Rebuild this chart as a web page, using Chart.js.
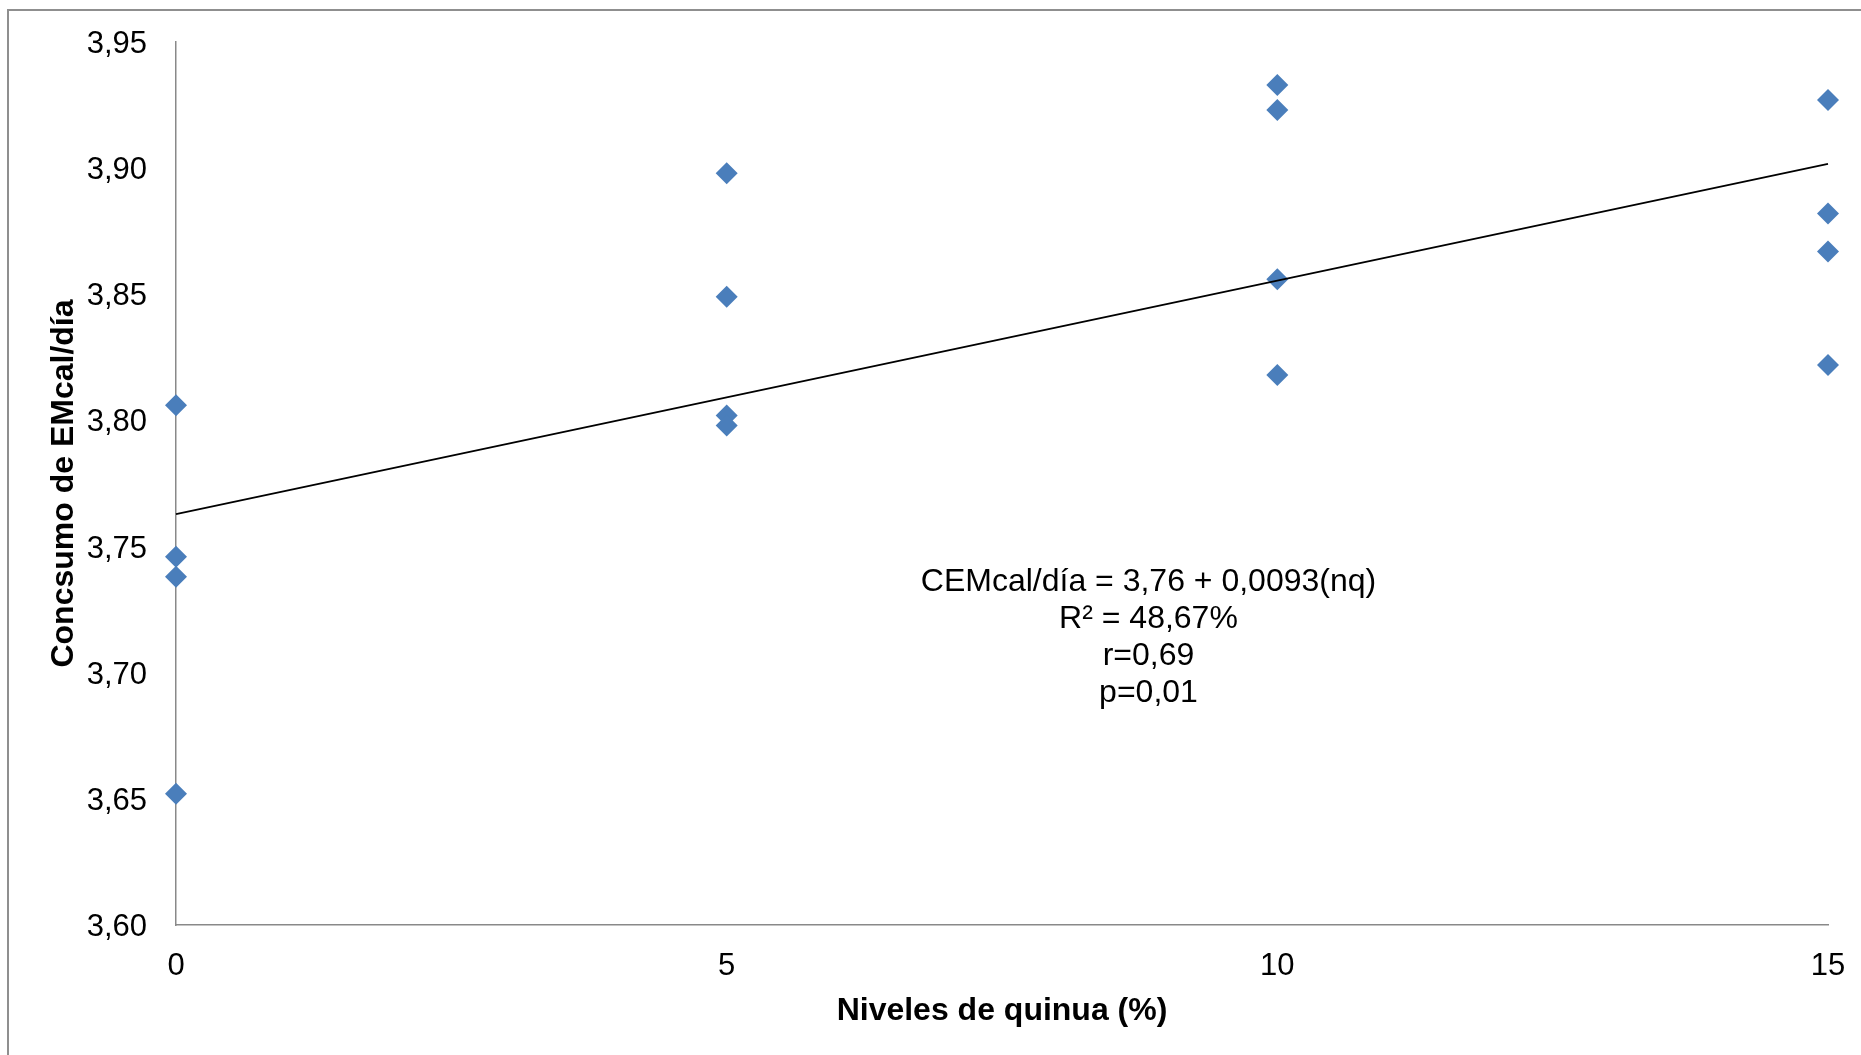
<!DOCTYPE html>
<html>
<head>
<meta charset="utf-8">
<script src="https://cdn.jsdelivr.net/npm/chart.js@4/dist/chart.umd.min.js"></script>
<style>
html,body{margin:0;padding:0;background:#fff;overflow:hidden}
#wrap{position:relative;width:1861px;height:1055px}
#frame{position:absolute;left:7px;top:9px;width:1950px;height:1150px;border:2px solid #8f8f8f;box-sizing:border-box}
canvas{position:absolute;left:0;top:0}
</style>
</head>
<body>
<div id="wrap"><div id="frame"></div><canvas id="c" width="1861" height="1055"></canvas></div>
<script>
// ---- data ----
const nivelesQuinua = [0, 0, 0, 0, 5, 5, 5, 5, 10, 10, 10, 10, 15, 15, 15, 15];
const consumoEM     = [3.806, 3.746, 3.738, 3.652,
                       3.898, 3.849, 3.802, 3.798,
                       3.933, 3.923, 3.856, 3.818,
                       3.927, 3.882, 3.867, 3.822];
const xTickValues = [0, 5, 10, 15];
const yTickLabels = ['3,60', '3,65', '3,70', '3,75', '3,80', '3,85', '3,90', '3,95'];
const xTitle = 'Niveles de quinua (%)';
const yTitle = 'Concsumo de EMcal/día';
const equationLines = ['CEMcal/día = 3,76 + 0,0093(nq)', 'R² = 48,67%', 'r=0,69', 'p=0,01'];
const equationAnchor = [8.83, 3.7357]; // data coords of first line centre

// least-squares trend line from the points
function linearFit(xs, ys) {
  const n = xs.length;
  const mx = xs.reduce((a, b) => a + b, 0) / n;
  const my = ys.reduce((a, b) => a + b, 0) / n;
  let sxy = 0, sxx = 0;
  for (let i = 0; i < n; i++) { sxy += (xs[i] - mx) * (ys[i] - my); sxx += (xs[i] - mx) ** 2; }
  const b = sxy / sxx;
  return { a: my - b * mx, b };
}
const fit = linearFit(nivelesQuinua, consumoEM);
const xMin = xTickValues[0], xMax = xTickValues[xTickValues.length - 1];
const trendPoints = [{ x: xMin, y: fit.a + fit.b * xMin }, { x: xMax, y: fit.a + fit.b * xMax }];
const scatterPoints = nivelesQuinua.map((x, i) => ({ x, y: consumoEM[i] }));

const FONT = "'Liberation Sans', Arial, sans-serif";

const equationPlugin = {
  id: 'equation',
  afterDatasetsDraw(chart) {
    const { ctx, scales } = chart;
    const x = scales.x.getPixelForValue(equationAnchor[0]);
    const y0 = scales.y.getPixelForValue(equationAnchor[1]);
    ctx.save();
    ctx.font = '32px ' + FONT;
    ctx.fillStyle = '#000';
    ctx.textAlign = 'center';
    ctx.textBaseline = 'middle';
    equationLines.forEach((t, i) => ctx.fillText(t, x, y0 + i * 36.7));
    ctx.restore();
  }
};

new Chart(document.getElementById('c'), {
  type: 'scatter',
  data: {
    datasets: [
      {
        type: 'line',
        data: trendPoints,
        borderColor: '#000',
        borderWidth: 1.8,
        pointRadius: 0,
        fill: false,
        clip: false,
        order: 0
      },
      {
        data: scatterPoints,
        pointStyle: 'rectRot',
        pointRadius: 11,
        pointBackgroundColor: '#4A7EBB',
        pointBorderWidth: 0,
        borderColor: '#4A7EBB',
        clip: false,
        order: 1
      }
    ]
  },
  options: {
    responsive: false,
    animation: false,
    devicePixelRatio: 1,
    layout: { autoPadding: false, padding: { top: 42, right: 33, bottom: 0, left: 0 } },
    plugins: { legend: { display: false }, tooltip: { enabled: false } },
    events: [],
    scales: {
      x: {
        type: 'linear',
        min: xMin,
        max: xMax,
        afterBuildTicks: s => { s.ticks = xTickValues.map(v => ({ value: v })); },
        ticks: { font: { family: FONT, size: 31 }, color: '#000', padding: 23, maxRotation: 0,
                 callback: v => String(v) },
        grid: { display: false, drawTicks: false },
        border: { display: true, color: '#898989', width: 1.5 },
        title: { display: true, text: xTitle, color: '#000',
                 font: { family: FONT, size: 32, weight: 'bold' }, padding: { top: 0, bottom: 25 } },
        afterFit: s => { s.height = 130; s.paddingLeft = 0; s.paddingRight = 0; }
      },
      y: {
        type: 'linear',
        min: 3.6,
        max: 3.95,
        afterBuildTicks: s => { s.ticks = yTickLabels.map(l => ({ value: parseFloat(l.replace(',', '.')) })); },
        ticks: { font: { family: FONT, size: 31 }, color: '#000', padding: 29, labelOffset: 2.5,
                 callback: (v, i) => yTickLabels[i] },
        grid: { display: false, drawTicks: false },
        border: { display: true, color: '#898989', width: 1.5 },
        title: { display: true, text: yTitle, color: '#000',
                 font: { family: FONT, size: 32, weight: 'bold' }, padding: { top: 45, bottom: 0 } },
        afterFit: s => { s.width = 176; s.paddingTop = 0; s.paddingBottom = 0; }
      }
    }
  },
  plugins: [equationPlugin]
});
</script>
</body>
</html>
